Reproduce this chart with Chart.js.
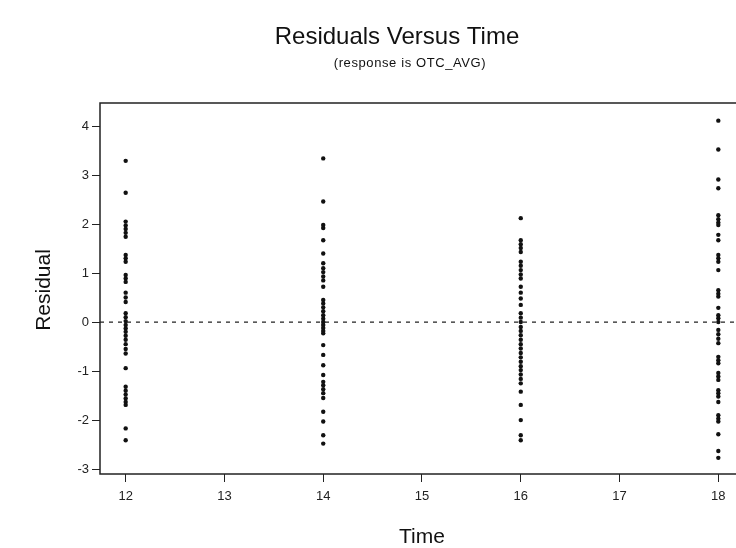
<!DOCTYPE html>
<html>
<head>
<meta charset="utf-8">
<script src="https://cdn.jsdelivr.net/npm/chart.js@4/dist/chart.umd.min.js"></script>
<style>
  html, body { margin: 0; padding: 0; background: #fff; overflow: hidden; }
  #wrap { width: 794px; height: 548px; }
</style>
</head>
<body>
<div id="wrap"><canvas id="c" width="794" height="548"></canvas></div>
<script>
// Residuals grouped by time point
const times = [12, 14, 16, 18];
const residAt12 = [3.29, 2.64, 2.05, 1.97, 1.90, 1.82, 1.74, 1.37, 1.30, 1.23, 0.96, 0.89, 0.82, 0.60, 0.50, 0.41, 0.18, 0.10, 0.02, -0.06, -0.13, -0.20, -0.28, -0.36, -0.45, -0.55, -0.64, -0.94, -1.32, -1.40, -1.48, -1.56, -1.63, -1.69, -2.17, -2.41];
const residAt14 = [3.34, 2.46, 1.98, 1.92, 1.67, 1.40, 1.20, 1.10, 1.02, 0.93, 0.85, 0.72, 0.45, 0.38, 0.30, 0.22, 0.14, 0.07, 0.00, -0.06, -0.12, -0.18, -0.23, -0.47, -0.67, -0.88, -1.08, -1.22, -1.29, -1.37, -1.45, -1.55, -1.83, -2.03, -2.31, -2.48];
const residAt16 = [2.12, 1.67, 1.59, 1.51, 1.43, 1.23, 1.15, 1.06, 0.97, 0.89, 0.72, 0.60, 0.48, 0.35, 0.18, 0.09, 0.00, -0.10, -0.18, -0.27, -0.36, -0.45, -0.54, -0.63, -0.72, -0.81, -0.90, -0.98, -1.07, -1.16, -1.25, -1.42, -1.69, -2.00, -2.31, -2.41];
const residAt18 = [4.11, 3.52, 2.91, 2.73, 2.18, 2.10, 2.03, 1.98, 1.78, 1.67, 1.37, 1.30, 1.23, 1.06, 0.65, 0.58, 0.52, 0.29, 0.14, 0.08, 0.00, -0.16, -0.25, -0.34, -0.43, -0.71, -0.78, -0.84, -1.04, -1.11, -1.18, -1.39, -1.45, -1.52, -1.63, -1.90, -1.97, -2.03, -2.29, -2.63, -2.77];
const xTicks = [12, 13, 14, 15, 16, 17, 18];
const yTicks = [-3, -2, -1, 0, 1, 2, 3, 4];
const referenceLevel = 0;

const residualGroups = [residAt12, residAt14, residAt16, residAt18];
const points = [];
times.forEach((t, i) => residualGroups[i].forEach(r => points.push({ x: t, y: r })));

const xMin = 11.74, xMax = 18.26;
const FONT = '"Liberation Sans", Arial, sans-serif';

// Frame around the plot area plus the heading and axis titles
const decor = {
  id: 'decor',
  afterDraw(chart) {
    const { ctx, chartArea: a } = chart;
    ctx.save();
    ctx.strokeStyle = '#222';
    ctx.lineWidth = 1.5;
    ctx.strokeRect(a.left, a.top, a.right - a.left, a.bottom - a.top);
    ctx.fillStyle = '#111';
    ctx.textAlign = 'center';
    ctx.textBaseline = 'middle';
    ctx.font = '24px ' + FONT;
    ctx.fillText('Residuals Versus Time', 397, 37);
    ctx.font = '13px ' + FONT;
    ctx.letterSpacing = '0.6px';
    ctx.fillText('(response is OTC_AVG)', 410, 63);
    ctx.letterSpacing = '0px';
    ctx.font = '21px ' + FONT;
    ctx.fillText('Time', 422, 537);
    ctx.translate(44, 290);
    ctx.rotate(-Math.PI / 2);
    ctx.fillText('Residual', 0, 0);
    ctx.restore();
  }
};

new Chart(document.getElementById('c'), {
  type: 'scatter',
  data: {
    datasets: [
      {
        type: 'line',
        data: [{ x: xMin, y: referenceLevel }, { x: xMax, y: referenceLevel }],
        borderColor: '#222',
        borderWidth: 1.2,
        borderDash: [4, 5],
        pointRadius: 0,
        order: 2
      },
      {
        data: points,
        backgroundColor: '#111',
        borderColor: '#111',
        pointRadius: 2.2,
        pointBorderWidth: 0,
        order: 1
      }
    ]
  },
  options: {
    responsive: false,
    animation: false,
    layout: { padding: { left: 0, right: 50, top: 103, bottom: 0 } },
    plugins: { legend: { display: false }, tooltip: { enabled: false }, title: { display: false } },
    scales: {
      x: {
        type: 'linear',
        min: xMin,
        max: xMax,
        afterBuildTicks: s => { s.ticks = xTicks.map(v => ({ value: v })); },
        afterFit: s => { s.height = 74; },
        grid: { drawOnChartArea: false, drawTicks: true, tickLength: 8, color: '#222', lineWidth: 1 },
        border: { display: false },
        ticks: { color: '#222', font: { family: FONT, size: 13 }, padding: 7, maxRotation: 0 }
      },
      y: {
        type: 'linear',
        min: -3.1,
        max: 4.47,
        afterBuildTicks: s => { s.ticks = yTicks.map(v => ({ value: v })); },
        afterFit: s => { s.width = 100; },
        grid: { drawOnChartArea: false, drawTicks: true, tickLength: 8, color: '#222', lineWidth: 1 },
        border: { display: false },
        ticks: { color: '#222', font: { family: FONT, size: 13 }, padding: 3 }
      }
    }
  },
  plugins: [decor]
});
</script>
</body>
</html>
